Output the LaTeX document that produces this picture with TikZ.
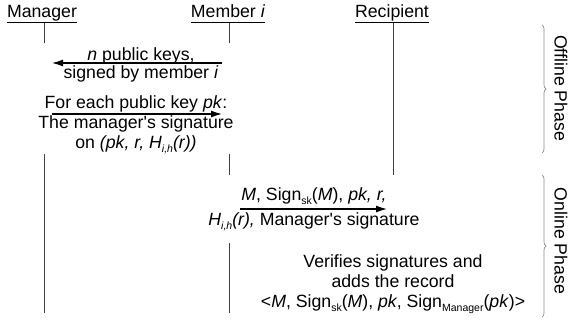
\documentclass[tikz,border=0pt]{standalone}
\usepackage{fontspec}
\setmainfont{Liberation Sans}
\usetikzlibrary{arrows.meta,decorations.pathreplacing}

\newcommand{\seqfont}{\fontsize{17.7}{20}\selectfont}
\newcommand{\lowsub}[1]{\raisebox{-4pt}{\fontsize{10.5}{10.5}\selectfont #1}}
\tikzset{
  actor/.style={anchor=base,inner sep=0pt,font=\seqfont},
  lifeline/.style={draw=black!75,line width=0.9pt},
  msg/.style={-{Latex[length=11pt,width=7pt]},line width=1.3pt},
  note/.style={align=center,anchor=base,inner sep=0pt,font=\seqfont},
  phase/.style={draw=black!45,line width=0.7pt,decorate,decoration={brace,amplitude=4pt}},
  phaselabel/.style={rotate=-90,inner sep=0pt,font=\seqfont}
}

\begin{document}
\begin{tikzpicture}[x=1pt,y=-1pt]
\useasboundingbox (0,0) rectangle (569,322);

% actors
\node[actor] (manager) at (42,17) {\underline{Manager\vphantom{g}}};
\node[actor] (member) at (228,17) {\underline{Member \textit{i}\vphantom{g}}};
\node[actor] (recipient) at (392,17) {\underline{Recipient}};

% lifelines
\coordinate (mgrA) at (44,23);  \coordinate (mgrB) at (44,43);
\coordinate (mgrC) at (44,154); \coordinate (mgrD) at (44,313);
\coordinate (memA) at (229,23); \coordinate (memB) at (229,43);
\coordinate (memC) at (229,154); \coordinate (memD) at (229,175);
\coordinate (memE) at (229,243); \coordinate (memF) at (229,313);
\coordinate (recA) at (393,23); \coordinate (recB) at (393,175);
\draw[lifeline] (mgrA) -- (mgrB) (mgrC) -- (mgrD);
\draw[lifeline] (memA) -- (memB) (memC) -- (memD) (memE) -- (memF);
\draw[lifeline] (recA) -- (recB);

% offline phase
\node[note] (keys) at (141,78) {\textit{n} public keys,\\[-2pt]signed by member \textit{i}};
\coordinate (keysFrom) at (222,63); \coordinate (keysTo) at (52,63);
\draw[msg] (keysFrom) -- (keysTo);

\node[note] (certs) at (136,148) {For each public key \textit{pk}:\\The manager\textquotesingle s signature\\on \textit{(pk, r, H\lowsub{i,h}(r))}};
\coordinate (certsFrom) at (52,114); \coordinate (certsTo) at (222,114);
\draw[msg] (certsFrom) -- (certsTo);

% online phase
\node[note] (sigmsg) at (314,225) {\textit{M}, Sign\lowsub{sk}(\textit{M}), \textit{pk, r,}\\[5pt]\textit{H\lowsub{i,h}(r),} Manager\textquotesingle s signature};
\coordinate (sigFrom) at (240,209); \coordinate (sigTo) at (387,209);
\draw[msg] (sigFrom) -- (sigTo);

\node[note] (verify) at (393,307) {Verifies signatures and\\adds the record\\<\textit{M}, Sign\lowsub{sk}(\textit{M}), \textit{pk}, Sign\lowsub{Manager}(\textit{pk})>};

% phases
\coordinate (offA) at (542,25); \coordinate (offB) at (542,153);
\coordinate (onA) at (542,175); \coordinate (onB) at (542,317);
\draw[phase] (offA) -- (offB);
\draw[phase] (onA) -- (onB);
\node[phaselabel] (offline) at (561,88) {Offline Phase};
\node[phaselabel] (online) at (561,241) {Online Phase};
\end{tikzpicture}
\end{document}
